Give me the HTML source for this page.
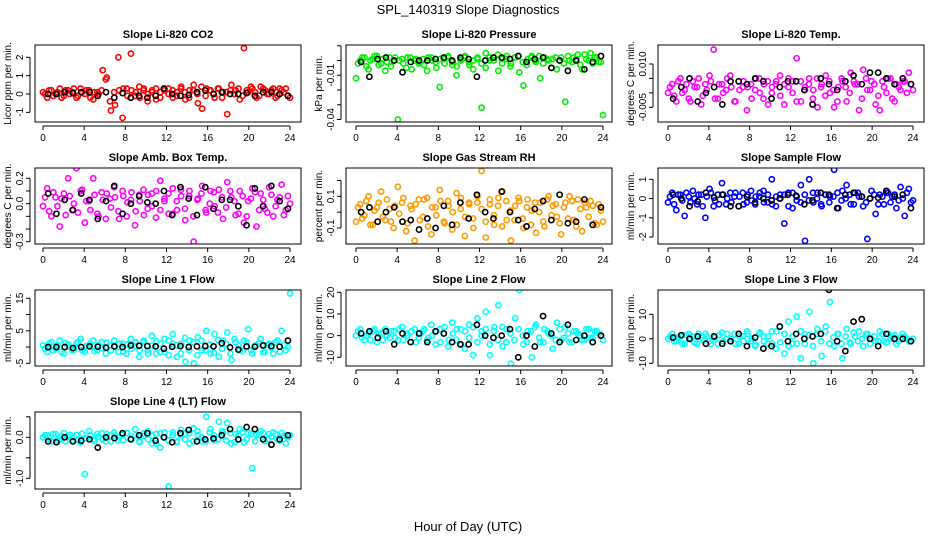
<!DOCTYPE html>
<html><head><meta charset="utf-8"><style>
body{margin:0;background:#fff;}
svg{display:block;font-family:"Liberation Sans",sans-serif;}
</style></head><body>
<svg id="c" width="936" height="540" viewBox="0 0 936 540">
<text x="468" y="14" text-anchor="middle" font-size="13">SPL_140319  Slope Diagnostics</text>
<text x="468" y="531" text-anchor="middle" font-size="13">Hour of Day (UTC)</text>
</svg>
<script>
const hourTicks=[0,4,8,12,16,20,24];
const co2Vals=[0.1,-0.2,0.2,0.0,0.3,-0.1,0.2,0.1,-0.2,0.3,0.0,0.2,-0.3,0.1,0.2,0.8,-0.4,0.1,2.0,-1.3,0.3,2.2,-0.1,0.4,0.2,-0.4,0.1,0.3,-0.2,0.2,0.3,-0.2,0.1,0.4,-0.3,0.2,0.5,-0.5,-0.8,0.3,0.2,-0.2,0.3,0.1,-1.1,0.5,0.2,-0.3,2.5,0.1,0.3,-0.2,0.4,0.2,0.0,0.3,-0.1,0.2,0.3,-0.2];
const co2ValsB=[0.0,0.2,-0.1,0.1,-0.2,0.2,0.0,0.3,-0.1,0.1,0.2,-0.2,0.1,0.0,1.3,0.9,-0.9,-0.6,0.2,0.3,-0.1,0.2,0.1,-0.2,0.3,0.0,0.2,-0.3,0.1,0.3,0.0,0.2,-0.1,0.3,0.1,-0.2,0.2,0.0,0.4,-0.1,0.2,0.0,0.3,-0.2,0.1,0.2,0.0,0.3,-0.1,0.2,0.4,0.1,-0.1,0.3,0.0,0.2,-0.2,0.3,0.1,-0.1];
const co2Mean=[0,0,0.1,0.05,0.1,0.1,-0.1,0.1,-0.2,0.05,-0.2,-0.1,-0.2,-0.1,0.3,0,-0.1,-0.05,0.1,0.2,0,0.1,0,0,0.05,-0.1,0.1,0.1,0,-0.1];
const presVals=[-0.012,0.0,0.002,-0.006,0.001,0.003,-0.002,-0.007,0.002,0.0,-0.04,0.001,-0.005,0.002,0.0,-0.002,0.001,-0.007,0.002,-0.001,-0.018,0.001,0.003,-0.003,-0.01,0.0,0.002,-0.001,-0.006,0.001,-0.032,0.005,0.0,0.002,-0.007,0.001,0.003,-0.002,0.002,-0.008,-0.017,0.001,0.003,-0.001,-0.012,0.002,0.0,0.001,-0.006,0.002,-0.028,0.0,0.002,0.004,-0.006,0.001,0.005,0.002,-0.001,-0.037];
const presValsB=[-0.002,0.002,-0.004,0.0,0.003,-0.003,0.001,-0.001,-0.004,0.002,0.0,-0.002,0.002,-0.006,0.001,-0.001,-0.003,0.002,0.0,-0.005,0.001,-0.002,0.002,-0.001,-0.004,0.001,0.003,-0.003,0.0,0.002,-0.002,-0.005,0.002,0.0,0.004,-0.002,0.001,-0.004,0.002,0.003,-0.001,-0.003,0.002,0.0,0.003,-0.002,0.001,-0.005,0.002,0.0,-0.002,0.003,-0.001,0.001,-0.003,0.004,0.0,-0.002,0.002,-0.001];
const presMean=[-0.001,-0.011,0.001,0.002,0.0,-0.008,-0.001,0.0,0.0,0.001,0.002,0.0,0.002,0.001,-0.011,0.0,0.002,0.002,0.001,0.003,-0.001,0.001,0.002,-0.005,0.0,-0.007,0.0,-0.006,-0.001,0.003];
const tempVals=[0.0,0.003,-0.003,0.005,0.001,-0.002,0.004,0.002,-0.004,0.003,0.006,0.015,-0.002,0.003,0.001,0.006,-0.003,0.004,0.002,-0.006,0.003,0.001,0.005,-0.002,0.004,0.0,0.003,0.006,-0.004,0.002,0.004,0.012,-0.003,0.002,0.005,0.001,-0.005,0.003,0.006,0.0,-0.005,0.002,0.004,-0.003,0.007,0.003,-0.006,0.008,0.001,0.004,-0.004,-0.006,0.002,0.005,-0.002,0.003,0.001,0.004,0.007,0.001];
const tempValsB=[0.002,-0.001,0.004,0.0,0.003,-0.003,0.002,0.005,-0.001,0.001,0.004,-0.002,0.003,0.0,0.005,0.002,-0.003,0.001,0.004,0.002,-0.002,0.005,0.0,0.003,-0.004,0.002,0.004,-0.001,0.003,0.005,0.0,-0.003,0.004,0.001,0.003,-0.002,0.005,0.002,-0.001,0.004,0.001,-0.003,0.005,0.002,0.0,0.004,0.003,-0.002,0.005,0.001,0.003,-0.001,0.004,0.0,0.005,-0.003,0.002,0.004,0.0,0.003];
const tempMean=[-0.002,0.002,0.005,-0.003,0.0,0.002,-0.004,0.004,0.004,0.003,0.005,0.004,-0.002,0.002,0.004,0.004,0.001,-0.004,0.005,0.003,0.001,0.004,0.006,0.003,0.007,0.007,0.005,0.003,0.005,0.003];
const ambVals=[-0.02,0.12,-0.1,0.05,-0.18,0.08,0.2,-0.05,0.28,0.1,-0.15,0.02,0.2,-0.08,0.09,-0.12,0.04,0.13,-0.06,0.1,-0.1,0.03,-0.17,0.07,0.11,-0.04,0.08,-0.11,0.18,0.02,-0.08,0.12,-0.05,0.06,-0.13,0.1,-0.3,0.04,0.14,-0.07,0.1,-0.02,0.11,-0.12,0.17,0.05,-0.09,0.1,-0.15,0.02,0.12,-0.18,0.08,-0.04,0.13,-0.1,0.03,0.15,-0.05,0.0];
const ambValsB=[0.05,-0.06,0.09,-0.02,0.04,-0.09,0.06,0.0,-0.07,0.11,0.02,-0.05,0.07,-0.1,0.03,0.08,-0.03,0.05,-0.12,0.06,0.01,0.09,-0.06,0.02,-0.09,0.07,-0.02,0.1,-0.05,0.04,0.08,-0.08,0.02,0.11,-0.04,0.06,-0.1,0.03,0.08,-0.05,0.0,0.09,-0.07,0.05,-0.03,0.1,0.02,-0.08,0.06,-0.1,0.04,0.09,-0.05,0.03,-0.07,0.07,-0.02,0.05,-0.09,0.06];
const ambMean=[0.08,-0.08,0.03,-0.05,0.08,0.03,-0.12,0.02,0.14,-0.08,0.0,0.06,0.01,0.0,0.1,-0.09,0.13,0.04,-0.09,0.13,-0.04,0.03,0.03,-0.02,-0.17,0.12,-0.02,0.14,0.02,-0.04];
const rhVals=[-0.06,0.05,-0.02,0.1,-0.08,0.03,0.13,-0.05,0.02,-0.1,0.16,0.06,-0.12,0.04,-0.18,0.08,-0.03,0.09,-0.14,0.03,0.14,-0.06,0.07,-0.11,0.12,0.02,-0.15,0.06,-0.04,0.1,0.26,-0.16,0.05,-0.08,0.09,0.13,-0.05,-0.18,0.04,0.07,-0.1,0.08,0.01,-0.13,0.06,-0.09,0.1,0.04,-0.03,-0.14,0.06,0.1,-0.05,0.08,-0.12,0.03,0.07,-0.07,0.05,-0.06];
const rhValsB=[0.03,-0.04,0.07,-0.08,0.01,0.06,-0.03,0.08,-0.06,0.04,-0.01,0.09,-0.07,0.02,0.05,-0.05,0.08,-0.09,0.03,-0.02,0.07,-0.07,0.04,0.0,-0.08,0.09,-0.03,0.05,-0.1,0.06,0.02,-0.06,0.08,-0.02,0.04,-0.09,0.07,0.01,-0.05,0.09,-0.04,0.03,-0.08,0.06,0.0,-0.06,0.08,-0.02,0.05,-0.07,0.03,-0.04,0.07,-0.09,0.02,0.06,-0.03,0.04,-0.08,0.01];
const rhMean=[0.0,0.03,-0.06,0.0,0.03,-0.06,-0.05,-0.11,-0.04,-0.1,0.04,-0.08,0.06,-0.04,0.11,0.0,-0.04,0.13,0.0,-0.05,-0.09,0.02,0.07,-0.05,0.11,-0.07,-0.06,0.08,-0.08,0.03];
const sfVals=[-0.2,0.3,-0.6,0.2,-0.9,0.1,0.4,-0.3,0.2,-1.0,0.5,-0.4,0.2,0.8,-0.3,0.3,0.1,-0.4,0.3,-0.2,0.4,-0.3,0.1,0.4,-0.2,1.0,-0.4,0.2,-1.3,0.3,-0.5,-0.1,0.7,-2.2,1.0,-0.2,0.3,-0.4,0.2,0.1,1.5,-0.5,0.4,0.7,-0.3,0.3,0.1,-0.4,-2.1,0.4,-0.8,0.2,-0.3,0.3,0.1,-0.5,0.6,-0.9,0.5,-0.1];
const sfValsB=[0.1,-0.3,0.2,-0.1,0.3,-0.2,0.0,0.2,-0.4,0.1,0.3,-0.1,-0.3,0.2,0.0,-0.2,0.3,0.1,-0.3,0.2,-0.1,0.1,0.3,-0.2,0.2,-0.3,0.1,0.0,0.2,-0.4,0.3,0.1,-0.2,0.2,-0.1,0.3,0.0,-0.3,0.2,-0.2,0.1,0.3,-0.1,0.0,0.2,-0.3,0.3,0.1,-0.2,0.0,0.2,-0.3,0.1,0.3,-0.2,0.2,-0.1,0.0,0.3,-0.2];
const sfMean=[0.2,0.0,-0.4,-0.15,0.3,0.05,0.2,-0.4,-0.4,0.1,-0.2,0.0,-0.1,0.0,0.2,0.15,-0.3,-0.1,0.3,0.2,-0.5,0.2,0.3,0.1,0.0,0.05,0.4,0.1,0.2,-0.5];
const l1Vals=[0.5,-1.5,1.5,-0.5,2,-2,0.8,-1,1,2.5,-1.5,0.5,2,-1,1.5,-2,0.5,2,-1.5,1,-2,2.5,0.3,-3,1.5,-1,3.5,-2,1,-1.5,2,4,-3,1,-4.5,2,-5,3,-1,5,-2,4,-3,2,4.5,-4,1.5,-1,2,5.5,-2,0.5,2.5,-1.5,1,-2,2,5,-1,16.5];
const l1ValsB=[-0.5,1,-1,0.5,-1.5,1.2,0,-0.8,1.5,-1,0.3,1,-1.2,0.6,-0.4,1.3,-1,0.2,1,-1.4,0.8,-0.5,1.5,-1,2,-2,0.5,1.8,-1.5,2.5,-2.5,1,0.5,-2,2.8,-1,1.5,-2.5,2,-1,0.8,-1.8,2.2,-0.5,1,-2,2.5,0.5,-1.2,1.5,-1,0.4,1.2,-1.6,0.7,-0.3,1.5,-1.4,0.6,0];
const l1Mean=[0,0,0,-0.3,0,0.2,0.1,-0.2,0.2,0,0.5,0.4,0.3,0.2,-0.5,0.1,0.3,0,0.2,0.3,0.2,1.2,-0.1,-0.8,0.2,0.1,0.5,0.3,0.1,2];
const l2Vals=[0,3,-2,1,2,-3,1,3,-1,2,-2,4,1,-3,3,-1,2,-2,5,-4,3,1,-5,6,-2,3,-6,5,-9,8,2,11,-9,4,14,-5,3,-13,8,21,-4,2,-10,5,-3,3,1,-6,6,-2,4,-3,2,1,-2,3,-1,2,1,-2];
const l2ValsB=[2,-1,0,-2,3,1,-2,0,2,-1,3,-2,0,2,-3,1,3,-1,0,2,-3,4,-2,1,3,-4,2,-1,4,-3,0,3,-4,2,-2,4,-3,1,-2,3,0,-3,2,4,-1,-3,2,0,-2,3,-1,1,-3,2,0,-2,3,-1,2,0];
const l2Mean=[1,2,-1,2,-4,1,-3,1,-3,2,1,-3,-4,-4,5,0,-1,0,3,-10,0,-5,9,1,-3,5,-2,0,-3,0];
const l3Vals=[0,2,-1,1,-2,2,1,-2,0.5,2,-1,1,-2,2.5,0,-1,2,-2,1,3,-1,-3,2,1,-2,3,-4,5,-6,7,-2,9,-8,2,11,-10,4,-7,5,15,-3,2,-8,4,-2,1,3,-3,2,0,-1,3,-1,2,1,-2,0.5,1,-1,0];
const l3ValsB=[1,-1,0.5,-2,1.5,0,-1.5,2,-0.5,1,-2,0.5,1.5,-1,2,0,-2,1,-1,2,0,-2.5,2.5,-1,1,-2,3,-1.5,2,-3,1,-2,3,-2,1.5,-3,2,-1,3,-2,0.5,2,-2,1,-1.5,2.5,-1,0,2,-2,1,-1,2,-1.5,0,1.5,-1,2,0,-1];
const l3Mean=[0.5,1.5,0,1,-2,1,-2,-1,2,-3,0.5,-4,-3,5,-1,2,0,1,2,20,-1,-5,7,8,0,-3,2,0,0,-1];
const l4Vals=[0.0,0.05,-0.1,0.08,-0.05,0.1,0.02,-0.08,0.06,-0.12,-0.9,0.15,-0.05,0.08,0.1,-0.1,0.04,0.12,-0.08,0.06,0.1,-0.05,0.2,-0.1,0.03,0.15,-0.15,0.08,-0.25,0.12,-1.2,0.05,-0.1,0.18,0.08,-0.15,0.22,0.05,-0.1,0.5,0.2,-0.08,0.38,0.1,0.35,-0.15,0.08,0.2,-0.12,0.1,-0.75,0.05,0.15,-0.1,0.08,0.12,-0.05,0.1,-0.15,0.05];
const l4ValsB=[0.05,-0.05,0.08,-0.08,0.03,-0.1,0.06,0.0,-0.06,0.09,-0.03,0.05,-0.09,0.02,-0.05,0.08,-0.1,0.04,0.0,-0.07,0.1,-0.03,0.06,-0.12,0.1,-0.05,0.04,-0.15,0.1,0.0,-0.08,0.12,-0.12,0.05,-0.05,0.1,-0.1,0.15,0.0,-0.1,0.12,0.05,-0.05,0.15,-0.08,0.1,-0.12,0.05,0.12,-0.05,0.08,-0.1,0.05,0.1,-0.05,0.02,0.08,-0.08,0.04,0.0];
const l4Mean=[-0.1,-0.12,0.0,-0.1,-0.08,-0.05,-0.25,0.0,-0.02,0.1,-0.05,0.05,0.1,-0.08,0.0,-0.12,0.1,0.18,-0.1,-0.05,-0.03,0.05,0.2,-0.05,0.25,0.2,-0.05,-0.18,-0.05,0.05];

const NS='http://www.w3.org/2000/svg';
const svg=document.getElementById('c');
function mk(tag,attrs,parent){const e=document.createElementNS(NS,tag);for(const k in attrs)e.setAttribute(k,attrs[k]);(parent||svg).appendChild(e);return e;}
const cols=[{l:35,r:301,x0:43,x24:290},{l:346,r:612,x0:356,x24:603},{l:658,r:924,x0:668,x24:913}];
const rows=[{t:45,b:122},{t:168,b:244},{t:290,b:366},{t:412,b:489}];
const panels=[
 {id:'co2',title:'Slope Li-820 CO2',yl:'Licor ppm per min.',c:0,r:0,v1:0,p1:49,v2:2,p2:12.3,ticks:[-1,0,1,2],labels:['-1','0','1','2'],col:'#ff0000',vals:co2Vals,valsB:co2ValsB,mean:co2Mean},
 {id:'pressure',title:'Slope Li-820 Pressure',yl:'kPa per min.',c:1,r:0,v1:0,p1:15.5,v2:-0.04,p2:74.5,ticks:[0.01,0,-0.01,-0.02,-0.03,-0.04],labels:['','','-0.01','','','-0.04'],col:'#00ee00',vals:presVals,valsB:presValsB,mean:presMean},
 {id:'li820-temp',title:'Slope Li-820 Temp.',yl:'degrees C per min.',c:2,r:0,v1:0.01,p1:19,v2:-0.005,p2:62.3,ticks:[0.01,0.005,0,-0.005],labels:['0.010','','','-0.005'],col:'#ff00ff',vals:tempVals,valsB:tempValsB,mean:tempMean},
 {id:'amb-box-temp',title:'Slope Amb. Box Temp.',yl:'degrees C per min.',c:0,r:1,v1:0.2,p1:10.3,v2:-0.3,p2:73.7,ticks:[0.2,0.1,0,-0.1,-0.2,-0.3],labels:['0.2','','0.0','','','-0.3'],col:'#ff00ff',vals:ambVals,valsB:ambValsB,mean:ambMean},
 {id:'gas-stream-rh',title:'Slope Gas Stream RH',yl:'percent per min.',c:1,r:1,v1:0.1,p1:28.3,v2:-0.1,p2:60,ticks:[0.2,0.1,0,-0.1],labels:['','0.1','','-0.1'],col:'#ff9900',vals:rhVals,valsB:rhValsB,mean:rhMean},
 {id:'sample-flow',title:'Slope Sample Flow',yl:'ml/min per min.',c:2,r:1,v1:1,p1:11.3,v2:-2,p2:69,ticks:[1,0,-1,-2],labels:['1','0','-1','-2'],col:'#0000ff',vals:sfVals,valsB:sfValsB,mean:sfMean},
 {id:'line1-flow',title:'Slope Line 1 Flow',yl:'ml/min per min.',c:0,r:2,v1:15,p1:8.3,v2:-5,p2:73.3,ticks:[15,10,5,0,-5],labels:['15','','5','','-5'],col:'#00ffff',vals:l1Vals,valsB:l1ValsB,mean:l1Mean},
 {id:'line2-flow',title:'Slope Line 2 Flow',yl:'ml/min per min.',c:1,r:2,v1:20,p1:2.3,v2:-10,p2:67.3,ticks:[20,10,0,-10],labels:['20','10','0','-10'],col:'#00ffff',vals:l2Vals,valsB:l2ValsB,mean:l2Mean},
 {id:'line3-flow',title:'Slope Line 3 Flow',yl:'ml/min per min.',c:2,r:2,v1:10,p1:24.3,v2:-10,p2:73.3,ticks:[10,0,-10],labels:['10','0','-10'],col:'#00ffff',vals:l3Vals,valsB:l3ValsB,mean:l3Mean},
 {id:'line4-flow',title:'Slope Line 4 (LT) Flow',yl:'ml/min per min.',c:0,r:3,v1:0,p1:25.3,v2:-1,p2:66.3,ticks:[0.5,0,-0.5,-1],labels:['','0.0','','-1.0'],col:'#00ffff',vals:l4Vals,valsB:l4ValsB,mean:l4Mean}
];
panels.forEach(p=>{
 const C=cols[p.c],R=rows[p.r];
 const xs=h=>C.x0+(C.x24-C.x0)*h/24;
 const ys=v=>R.t+p.p1+(v-p.v1)*(p.p2-p.p1)/(p.v2-p.v1);
 const g=mk('g',{});
 
 
 const t=mk('text',{x:(C.l+C.r)/2,y:R.t-7,'text-anchor':'middle','font-size':'11','font-weight':'bold'},g);t.textContent=p.title;
 
 
 const yt=mk('text',{x:0,y:0,transform:`translate(${C.l-24},${(R.t+R.b)/2}) rotate(-90)`,'text-anchor':'middle','font-size':'10'},g);yt.textContent=p.yl;
 
 
 const clip=mk('clipPath',{id:'cl'+p.id},g);mk('rect',{x:C.l,y:R.t,width:C.r-C.l,height:R.b-R.t},clip);
 const pts=mk('g',{'clip-path':`url(#cl${p.id})`},g);
 p.vals.forEach((v,i)=>{const h=i*24/(p.vals.length-1);
  const e=mk('circle',{cx:xs(h),cy:ys(v),r:2.6,fill:'none',stroke:p.col,'stroke-width':1.6},pts);
  
  });
 p.valsB.forEach((v,i)=>{const h=0.2+i*23.6/(p.valsB.length-1);
  const e=mk('circle',{cx:xs(h),cy:ys(v),r:2.6,fill:'none',stroke:p.col,'stroke-width':1.6},pts);
  
  });
 p.mean.forEach((v,i)=>{const h=0.5+i*23.3/(p.mean.length-1);
  const e=mk('circle',{cx:xs(h),cy:ys(v),r:2.6,fill:'none',stroke:'#000','stroke-width':1.6},pts);
  
  });
 const box=mk('rect',{x:C.l,y:R.t,width:C.r-C.l,height:R.b-R.t,fill:'none',stroke:'#000','stroke-width':1},g);
 
 
 const yv=p.ticks.map(ys);
 mk('line',{x1:C.l-5,x2:C.l-5,y1:Math.min(...yv),y2:Math.max(...yv),stroke:'#000'},g);
 p.ticks.forEach((tv,i)=>{const y=ys(tv);mk('line',{x1:C.l-9,x2:C.l-5,y1:y,y2:y,stroke:'#000'},g);
  if(p.labels[i]){const l=mk('text',{x:0,y:0,transform:`translate(${C.l-12},${y}) rotate(-90)`,'text-anchor':'middle','font-size':'10'},g);l.textContent=p.labels[i];
  
  }});
 const ay=R.b+4;
 mk('line',{x1:xs(0),x2:xs(24),y1:ay,y2:ay,stroke:'#000'},g);
 hourTicks.forEach(h=>{mk('line',{x1:xs(h),x2:xs(h),y1:ay,y2:ay+4,stroke:'#000'},g);
  const l=mk('text',{x:xs(h),y:ay+15,'text-anchor':'middle','font-size':'10'},g);l.textContent=String(h);
  
  });
});
</script>
</body></html>
